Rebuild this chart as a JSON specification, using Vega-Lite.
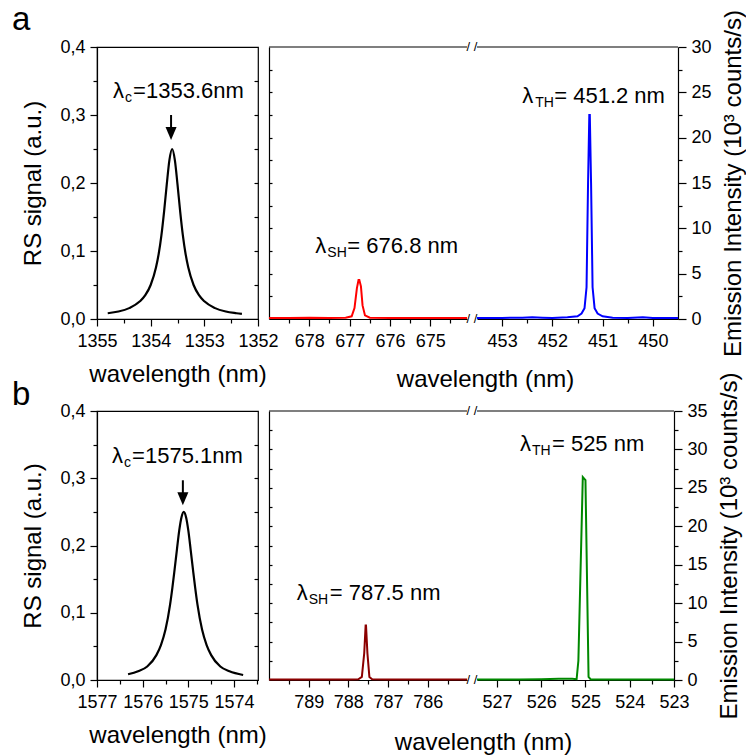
{
  "$schema": "https://vega.github.io/schema/vega-lite/v6.json",
  "padding": {"top": 3, "left": 11, "right": 0, "bottom": 0},
  "background": "white",
  "datasets": {
    "rsA": [
      {"wl": 1354.8, "v": 0.0085}, {"wl": 1354.6, "v": 0.011}, {"wl": 1354.4, "v": 0.016}, {"wl": 1354.2, "v": 0.026},
      {"wl": 1354.1, "v": 0.035}, {"wl": 1354.0, "v": 0.05}, {"wl": 1353.9, "v": 0.076}, {"wl": 1353.85, "v": 0.096},
      {"wl": 1353.8, "v": 0.123}, {"wl": 1353.75, "v": 0.158}, {"wl": 1353.7, "v": 0.198}, {"wl": 1353.65, "v": 0.234},
      {"wl": 1353.6, "v": 0.25}, {"wl": 1353.55, "v": 0.234}, {"wl": 1353.5, "v": 0.198}, {"wl": 1353.45, "v": 0.158},
      {"wl": 1353.4, "v": 0.123}, {"wl": 1353.35, "v": 0.096}, {"wl": 1353.3, "v": 0.076}, {"wl": 1353.2, "v": 0.05},
      {"wl": 1353.1, "v": 0.035}, {"wl": 1353.0, "v": 0.026}, {"wl": 1352.8, "v": 0.016}, {"wl": 1352.6, "v": 0.011},
      {"wl": 1352.4, "v": 0.0085}, {"wl": 1352.3, "v": 0.0075}
    ],
    "rsB": [
      {"wl": 1576.32, "v": 0.0085}, {"wl": 1576.1, "v": 0.013}, {"wl": 1575.9, "v": 0.02}, {"wl": 1575.7, "v": 0.037},
      {"wl": 1575.6, "v": 0.052}, {"wl": 1575.5, "v": 0.075}, {"wl": 1575.4, "v": 0.112}, {"wl": 1575.35, "v": 0.137},
      {"wl": 1575.3, "v": 0.165}, {"wl": 1575.25, "v": 0.194}, {"wl": 1575.2, "v": 0.222}, {"wl": 1575.15, "v": 0.242},
      {"wl": 1575.1, "v": 0.25}, {"wl": 1575.05, "v": 0.242}, {"wl": 1575.0, "v": 0.222}, {"wl": 1574.95, "v": 0.194},
      {"wl": 1574.9, "v": 0.165}, {"wl": 1574.85, "v": 0.137}, {"wl": 1574.8, "v": 0.112}, {"wl": 1574.7, "v": 0.075},
      {"wl": 1574.6, "v": 0.052}, {"wl": 1574.5, "v": 0.037}, {"wl": 1574.3, "v": 0.02}, {"wl": 1574.1, "v": 0.013},
      {"wl": 1573.8, "v": 0.0075}
    ],
    "shA": [
      {"wl": 679.0, "v": 0.12}, {"wl": 678.5, "v": 0.1}, {"wl": 678.0, "v": 0.14}, {"wl": 677.5, "v": 0.12},
      {"wl": 677.1, "v": 0.15}, {"wl": 676.95, "v": 0.3}, {"wl": 676.88, "v": 1.2}, {"wl": 676.82, "v": 3.4},
      {"wl": 676.78, "v": 4.3}, {"wl": 676.76, "v": 4.3}, {"wl": 676.72, "v": 3.6}, {"wl": 676.68, "v": 1.5}, {"wl": 676.62, "v": 0.4},
      {"wl": 676.5, "v": 0.15}, {"wl": 676.0, "v": 0.12}, {"wl": 675.5, "v": 0.1}, {"wl": 675.0, "v": 0.12},
      {"wl": 674.5, "v": 0.1}, {"wl": 674.09, "v": 0.1}
    ],
    "thA": [
      {"wl": 453.5, "v": 0.1}, {"wl": 453.0, "v": 0.12}, {"wl": 452.6, "v": 0.15}, {"wl": 452.4, "v": 0.2},
      {"wl": 452.2, "v": 0.15}, {"wl": 452.0, "v": 0.12}, {"wl": 451.7, "v": 0.18}, {"wl": 451.5, "v": 0.3},
      {"wl": 451.42, "v": 0.6}, {"wl": 451.36, "v": 1.2}, {"wl": 451.32, "v": 3.5}, {"wl": 451.29, "v": 15},
      {"wl": 451.265, "v": 22.5}, {"wl": 451.255, "v": 22.5}, {"wl": 451.23, "v": 15}, {"wl": 451.2, "v": 3.5}, {"wl": 451.16, "v": 1.2},
      {"wl": 451.1, "v": 0.6}, {"wl": 451.0, "v": 0.3}, {"wl": 450.8, "v": 0.15}, {"wl": 450.5, "v": 0.12},
      {"wl": 450.2, "v": 0.2}, {"wl": 450.0, "v": 0.12}, {"wl": 449.5, "v": 0.1}
    ],
    "shB": [
      {"wl": 790.0, "v": 0.05}, {"wl": 789.5, "v": 0.08}, {"wl": 789.0, "v": 0.06}, {"wl": 788.5, "v": 0.05},
      {"wl": 788.0, "v": 0.06}, {"wl": 787.75, "v": 0.1}, {"wl": 787.66, "v": 0.4}, {"wl": 787.6, "v": 3.5},
      {"wl": 787.565, "v": 7.1}, {"wl": 787.555, "v": 7.1}, {"wl": 787.52, "v": 3.5}, {"wl": 787.47, "v": 0.4}, {"wl": 787.4, "v": 0.1},
      {"wl": 787.0, "v": 0.05}, {"wl": 786.5, "v": 0.06}, {"wl": 786.0, "v": 0.05}, {"wl": 785.5, "v": 0.05},
      {"wl": 785.01, "v": 0.05}
    ],
    "thB": [
      {"wl": 527.45, "v": 0.05}, {"wl": 527.0, "v": 0.05}, {"wl": 526.5, "v": 0.08}, {"wl": 526.0, "v": 0.1},
      {"wl": 525.6, "v": 0.15}, {"wl": 525.3, "v": 0.15}, {"wl": 525.2, "v": 0.1}, {"wl": 525.16, "v": 2.5},
      {"wl": 525.06, "v": 26.4}, {"wl": 525.0, "v": 26.0}, {"wl": 524.93, "v": 0.4}, {"wl": 524.88, "v": 0.08},
      {"wl": 524.5, "v": 0.05}, {"wl": 524.0, "v": 0.05}, {"wl": 523.5, "v": 0.05}, {"wl": 523.0, "v": 0.05}
    ],
    "annA": [{"wl": 1354.7, "v": 0.325, "lam": "λ", "sub": "c", "rest": "=1353.6nm"}],
    "annB": [{"wl": 1576.67, "v": 0.323, "lam": "λ", "sub": "c", "rest": "=1575.1nm"}],
    "arrowA": [{"wl": 1353.62, "y1": 0.3, "y2": 0.28, "yh": 0.2728}],
    "arrowB": [{"wl": 1575.12, "y1": 0.297, "y2": 0.277, "yh": 0.2696}],
    "annSHA": [{"wl": 677.85, "v": 7.3, "lam": "λ", "sub": "SH", "rest": "= 676.8 nm"}],
    "annTHA": [{"wl": 452.6, "v": 23.8, "lam": "λ", "sub": "TH", "rest": "= 451.2 nm"}],
    "annSHB": [{"wl": 789.3, "v": 10.36, "lam": "λ", "sub": "SH", "rest": "= 787.5 nm"}],
    "annTHB": [{"wl": 526.48, "v": 29.8, "lam": "λ", "sub": "TH", "rest": "= 525 nm"}]
  },
  "concat": [
    {
      "width": 161, "height": 272,
      "title": {"text": "a", "anchor": "start", "frame": "bounds", "fontSize": 33, "dx": -10, "offset": 1},
      "layer": [
        {
          "layer": [
            {"data": {"name": "rsA"}, "mark": {"type": "line", "color": "#000", "strokeWidth": 2.2, "interpolate": "monotone"},
              "encoding": {
                "x": {"field": "wl", "type": "quantitative", "scale": {"domain": [1352, 1355], "reverse": true, "nice": false, "zero": false},
                  "axis": {"title": "wavelength (nm)", "values": [1355, 1354, 1353, 1352], "tickCount": 100, "format": "d", "tickSize": 7, "labelPadding": 6, "titlePadding": 12}},
                "y": {"field": "v", "type": "quantitative", "scale": {"domain": [0, 0.4], "nice": false, "zero": false},
                  "axis": {"title": "RS signal (a.u.)", "values": [0, 0.1, 0.2, 0.3, 0.4], "tickCount": 100, "tickSize": 7,
                    "labelExpr": "replace(format(datum.value, '.1f'), '.', ',')", "labelPadding": 5, "titlePadding": 14}}
              }},
            {"data": {"name": "arrowA"}, "mark": {"type": "rule", "color": "#000", "strokeWidth": 2},
              "encoding": {"x": {"field": "wl", "type": "quantitative"}, "y": {"field": "y1", "type": "quantitative"}, "y2": {"field": "y2"}}},
            {"data": {"name": "arrowA"}, "mark": {"type": "point", "shape": "M-0.85,-1L0.85,-1L0,1Z", "filled": true, "color": "#000", "size": 169, "opacity": 1},
              "encoding": {"x": {"field": "wl", "type": "quantitative"}, "y": {"field": "yh", "type": "quantitative"}}},
            {"data": {"name": "annA"}, "mark": {"type": "text", "align": "left", "baseline": "alphabetic", "fontSize": 22, "color": "#000"},
              "encoding": {"x": {"field": "wl", "type": "quantitative"}, "y": {"field": "v", "type": "quantitative"}, "text": {"field": "lam"}}},
            {"data": {"name": "annA"}, "mark": {"type": "text", "align": "left", "baseline": "alphabetic", "fontSize": 14, "dx": 12, "dy": 4, "color": "#000"},
              "encoding": {"x": {"field": "wl", "type": "quantitative"}, "y": {"field": "v", "type": "quantitative"}, "text": {"field": "sub"}}},
            {"data": {"name": "annA"}, "mark": {"type": "text", "align": "left", "baseline": "alphabetic", "fontSize": 22, "dx": 20, "color": "#000"},
              "encoding": {"x": {"field": "wl", "type": "quantitative"}, "y": {"field": "v", "type": "quantitative"}, "text": {"field": "rest"}}}
          ]
        },
        {"data": {"name": "rsA"}, "mark": {"type": "line", "opacity": 0},
          "encoding": {
            "x": {"field": "wl", "type": "quantitative", "scale": {"domain": [1352, 1355], "reverse": true, "nice": false, "zero": false},
              "axis": {"orient": "bottom", "title": null, "labels": false, "domain": false, "tickSize": 4, "tickCount": 100, "values": [1354.5, 1353.5, 1352.5]}},
            "y": {"field": "v", "type": "quantitative", "scale": {"domain": [0, 0.4], "nice": false, "zero": false},
              "axis": {"orient": "left", "title": null, "labels": false, "domain": false, "tickSize": 4, "tickCount": 100, "values": [0.05, 0.15, 0.25, 0.35]}}
          }},
        {"data": {"name": "rsA"}, "mark": {"type": "line", "opacity": 0},
          "encoding": {
            "x": {"field": "wl", "type": "quantitative", "scale": {"domain": [1352, 1355], "reverse": true, "nice": false, "zero": false}, "axis": null},
            "y": {"field": "v", "type": "quantitative", "scale": {"domain": [0, 0.4], "nice": false, "zero": false},
              "axis": {"orient": "right", "title": null, "labels": false, "domain": false, "tickSize": -4, "tickCount": 100, "values": [0.05, 0.1, 0.15, 0.2, 0.25, 0.3, 0.35]}}
          }}
      ],
      "resolve": {"scale": {"x": "independent", "y": "independent"}, "axis": {"x": "independent", "y": "independent"}}
    },
    {
      "width": 409, "height": 272,
      "view": {"stroke": null},
      "title": {"text": "wavelength (nm)", "orient": "bottom", "frame": "group", "anchor": "middle", "dx": 12, "offset": 12, "fontSize": 24},
      "layer": [
        {
          "layer": [
            {"data": {"name": "shA"}, "mark": {"type": "line", "color": "#ff0000", "strokeWidth": 2},
              "encoding": {
                "x": {"field": "wl", "type": "quantitative", "scale": {"domain": [674.09, 679], "range": [0, 198], "reverse": true, "nice": false, "zero": false},
                  "axis": {"orient": "bottom", "title": null, "values": [678, 677, 676, 675], "tickCount": 100, "format": "d", "tickSize": 7, "labelPadding": 6}},
                "y": {"field": "v", "type": "quantitative", "scale": {"domain": [0, 30], "nice": false, "zero": false},
                  "axis": {"orient": "left", "title": null, "labels": false, "tickSize": -3, "tickCount": 100,
                    "values": [2.5, 5, 7.5, 10, 12.5, 15, 17.5, 20, 22.5, 25, 27.5]}}
              }},
            {"data": {"name": "shA"}, "mark": {"type": "rule", "color": "#000", "strokeWidth": 1.2},
              "encoding": {"x": {"aggregate": "max", "field": "wl", "type": "quantitative"}, "x2": {"aggregate": "min", "field": "wl"}, "y": {"datum": 30}}},
            {"data": {"name": "shA"}, "mark": {"type": "text", "text": "/ /", "fontSize": 13, "dx": 5, "align": "center", "baseline": "middle", "color": "#000"},
              "encoding": {"x": {"aggregate": "min", "field": "wl", "type": "quantitative"}, "y": {"datum": 30}}},
            {"data": {"name": "shA"}, "mark": {"type": "text", "text": "/ /", "fontSize": 13, "dx": 5, "align": "center", "baseline": "middle", "color": "#000"},
              "encoding": {"x": {"aggregate": "min", "field": "wl", "type": "quantitative"}, "y": {"datum": 0}}},
            {"data": {"name": "annSHA"}, "mark": {"type": "text", "align": "left", "baseline": "alphabetic", "fontSize": 22, "color": "#000"},
              "encoding": {"x": {"field": "wl", "type": "quantitative"}, "y": {"field": "v", "type": "quantitative"}, "text": {"field": "lam"}}},
            {"data": {"name": "annSHA"}, "mark": {"type": "text", "align": "left", "baseline": "alphabetic", "fontSize": 14, "dx": 12, "dy": 4, "color": "#000"},
              "encoding": {"x": {"field": "wl", "type": "quantitative"}, "y": {"field": "v", "type": "quantitative"}, "text": {"field": "sub"}}},
            {"data": {"name": "annSHA"}, "mark": {"type": "text", "align": "left", "baseline": "alphabetic", "fontSize": 22, "dx": 32, "color": "#000"},
              "encoding": {"x": {"field": "wl", "type": "quantitative"}, "y": {"field": "v", "type": "quantitative"}, "text": {"field": "rest"}}}
          ]
        },
        {
          "layer": [
            {"data": {"name": "thA"}, "mark": {"type": "line", "color": "#0000ff", "strokeWidth": 2},
              "encoding": {
                "x": {"field": "wl", "type": "quantitative", "scale": {"domain": [449.5, 453.5], "range": [208, 409], "reverse": true, "nice": false, "zero": false},
                  "axis": {"orient": "bottom", "title": null, "values": [453, 452, 451, 450], "tickCount": 100, "format": "d", "tickSize": 7, "labelPadding": 6}},
                "y": {"field": "v", "type": "quantitative", "scale": {"domain": [0, 30], "nice": false, "zero": false},
                  "axis": {"orient": "right", "title": "Emission Intensity (10³ counts/s)", "titleAngle": 270, "titleBaseline": "top", "titleFontSize": 24,
                    "values": [0, 5, 10, 15, 20, 25, 30], "tickCount": 100, "format": "d", "tickSize": 8, "labelPadding": 5, "titlePadding": 10}}
              }},
            {"data": {"name": "thA"}, "mark": {"type": "rule", "color": "#000", "strokeWidth": 1.2},
              "encoding": {"x": {"aggregate": "max", "field": "wl", "type": "quantitative"}, "x2": {"aggregate": "min", "field": "wl"}, "y": {"datum": 30}}},
            {"data": {"name": "annTHA"}, "mark": {"type": "text", "align": "left", "baseline": "alphabetic", "fontSize": 22, "color": "#000"},
              "encoding": {"x": {"field": "wl", "type": "quantitative"}, "y": {"field": "v", "type": "quantitative"}, "text": {"field": "lam"}}},
            {"data": {"name": "annTHA"}, "mark": {"type": "text", "align": "left", "baseline": "alphabetic", "fontSize": 14, "dx": 13, "dy": 4, "color": "#000"},
              "encoding": {"x": {"field": "wl", "type": "quantitative"}, "y": {"field": "v", "type": "quantitative"}, "text": {"field": "sub"}}},
            {"data": {"name": "annTHA"}, "mark": {"type": "text", "align": "left", "baseline": "alphabetic", "fontSize": 22, "dx": 32, "color": "#000"},
              "encoding": {"x": {"field": "wl", "type": "quantitative"}, "y": {"field": "v", "type": "quantitative"}, "text": {"field": "rest"}}}
          ]
        },
        {"data": {"name": "shA"}, "mark": {"type": "line", "opacity": 0},
          "encoding": {
            "x": {"field": "wl", "type": "quantitative", "scale": {"domain": [674.09, 679], "range": [0, 198], "reverse": true, "nice": false, "zero": false},
              "axis": {"orient": "bottom", "title": null, "labels": false, "domain": false, "tickSize": 4, "tickCount": 100, "values": [678.5, 677.5, 676.5, 675.5, 674.5]}},
            "y": {"field": "v", "type": "quantitative", "scale": {"domain": [0, 30], "nice": false, "zero": false}, "axis": null}
          }},
        {"data": {"name": "thA"}, "mark": {"type": "line", "opacity": 0},
          "encoding": {
            "x": {"field": "wl", "type": "quantitative", "scale": {"domain": [449.5, 453.5], "range": [208, 409], "reverse": true, "nice": false, "zero": false},
              "axis": {"orient": "bottom", "title": null, "labels": false, "domain": false, "tickSize": 4, "tickCount": 100, "values": [452.5, 451.5, 450.5]}},
            "y": {"field": "v", "type": "quantitative", "scale": {"domain": [0, 30], "nice": false, "zero": false},
              "axis": {"orient": "right", "title": null, "labels": false, "domain": false, "tickSize": 4, "tickCount": 100, "values": [2.5, 7.5, 12.5, 17.5, 22.5, 27.5]}}
          }}
      ],
      "resolve": {"scale": {"x": "independent", "y": "independent"}, "axis": {"x": "independent", "y": "independent"}}
    },
    {
      "width": 161, "height": 269,
      "title": {"text": "b", "anchor": "start", "frame": "bounds", "fontSize": 33, "dx": -10, "offset": -10},
      "layer": [
        {
          "layer": [
            {"data": {"name": "rsB"}, "mark": {"type": "line", "color": "#000", "strokeWidth": 2.2, "interpolate": "monotone"},
              "encoding": {
                "x": {"field": "wl", "type": "quantitative", "scale": {"domain": [1573.475, 1577], "reverse": true, "nice": false, "zero": false},
                  "axis": {"title": "wavelength (nm)", "values": [1577, 1576, 1575, 1574], "tickCount": 100, "format": "d", "tickSize": 7, "labelPadding": 6, "titlePadding": 12}},
                "y": {"field": "v", "type": "quantitative", "scale": {"domain": [0, 0.4], "nice": false, "zero": false},
                  "axis": {"title": "RS signal (a.u.)", "values": [0, 0.1, 0.2, 0.3, 0.4], "tickCount": 100, "tickSize": 7,
                    "labelExpr": "replace(format(datum.value, '.1f'), '.', ',')", "labelPadding": 5, "titlePadding": 14}}
              }},
            {"data": {"name": "arrowB"}, "mark": {"type": "rule", "color": "#000", "strokeWidth": 2},
              "encoding": {"x": {"field": "wl", "type": "quantitative"}, "y": {"field": "y1", "type": "quantitative"}, "y2": {"field": "y2"}}},
            {"data": {"name": "arrowB"}, "mark": {"type": "point", "shape": "M-0.85,-1L0.85,-1L0,1Z", "filled": true, "color": "#000", "size": 169, "opacity": 1},
              "encoding": {"x": {"field": "wl", "type": "quantitative"}, "y": {"field": "yh", "type": "quantitative"}}},
            {"data": {"name": "annB"}, "mark": {"type": "text", "align": "left", "baseline": "alphabetic", "fontSize": 22, "color": "#000"},
              "encoding": {"x": {"field": "wl", "type": "quantitative"}, "y": {"field": "v", "type": "quantitative"}, "text": {"field": "lam"}}},
            {"data": {"name": "annB"}, "mark": {"type": "text", "align": "left", "baseline": "alphabetic", "fontSize": 14, "dx": 12, "dy": 4, "color": "#000"},
              "encoding": {"x": {"field": "wl", "type": "quantitative"}, "y": {"field": "v", "type": "quantitative"}, "text": {"field": "sub"}}},
            {"data": {"name": "annB"}, "mark": {"type": "text", "align": "left", "baseline": "alphabetic", "fontSize": 22, "dx": 20, "color": "#000"},
              "encoding": {"x": {"field": "wl", "type": "quantitative"}, "y": {"field": "v", "type": "quantitative"}, "text": {"field": "rest"}}}
          ]
        },
        {"data": {"name": "rsB"}, "mark": {"type": "line", "opacity": 0},
          "encoding": {
            "x": {"field": "wl", "type": "quantitative", "scale": {"domain": [1573.475, 1577], "reverse": true, "nice": false, "zero": false},
              "axis": {"orient": "bottom", "title": null, "labels": false, "domain": false, "tickSize": 4, "tickCount": 100, "values": [1576.5, 1575.5, 1574.5, 1573.5]}},
            "y": {"field": "v", "type": "quantitative", "scale": {"domain": [0, 0.4], "nice": false, "zero": false},
              "axis": {"orient": "left", "title": null, "labels": false, "domain": false, "tickSize": 4, "tickCount": 100, "values": [0.05, 0.15, 0.25, 0.35]}}
          }},
        {"data": {"name": "rsB"}, "mark": {"type": "line", "opacity": 0},
          "encoding": {
            "x": {"field": "wl", "type": "quantitative", "scale": {"domain": [1573.475, 1577], "reverse": true, "nice": false, "zero": false}, "axis": null},
            "y": {"field": "v", "type": "quantitative", "scale": {"domain": [0, 0.4], "nice": false, "zero": false},
              "axis": {"orient": "right", "title": null, "labels": false, "domain": false, "tickSize": -4, "tickCount": 100, "values": [0.05, 0.1, 0.15, 0.2, 0.25, 0.3, 0.35]}}
          }}
      ],
      "resolve": {"scale": {"x": "independent", "y": "independent"}, "axis": {"x": "independent", "y": "independent"}}
    },
    {
      "width": 405, "height": 269,
      "view": {"stroke": null},
      "title": {"text": "wavelength (nm)", "orient": "bottom", "frame": "group", "anchor": "middle", "dx": 12, "offset": 12, "fontSize": 24},
      "layer": [
        {
          "layer": [
            {"data": {"name": "shB"}, "mark": {"type": "line", "color": "#8b0000", "strokeWidth": 2},
              "encoding": {
                "x": {"field": "wl", "type": "quantitative", "scale": {"domain": [785.01, 790], "range": [0, 198], "reverse": true, "nice": false, "zero": false},
                  "axis": {"orient": "bottom", "title": null, "values": [789, 788, 787, 786], "tickCount": 100, "format": "d", "tickSize": 7, "labelPadding": 6}},
                "y": {"field": "v", "type": "quantitative", "scale": {"domain": [0, 35], "nice": false, "zero": false},
                  "axis": {"orient": "left", "title": null, "labels": false, "tickSize": -3, "tickCount": 100,
                    "values": [2.5, 5, 7.5, 10, 12.5, 15, 17.5, 20, 22.5, 25, 27.5, 30, 32.5]}}
              }},
            {"data": {"name": "shB"}, "mark": {"type": "rule", "color": "#000", "strokeWidth": 1.2},
              "encoding": {"x": {"aggregate": "max", "field": "wl", "type": "quantitative"}, "x2": {"aggregate": "min", "field": "wl"}, "y": {"datum": 35}}},
            {"data": {"name": "shB"}, "mark": {"type": "text", "text": "/ /", "fontSize": 13, "dx": 5, "align": "center", "baseline": "middle", "color": "#000"},
              "encoding": {"x": {"aggregate": "min", "field": "wl", "type": "quantitative"}, "y": {"datum": 35}}},
            {"data": {"name": "shB"}, "mark": {"type": "text", "text": "/ /", "fontSize": 13, "dx": 5, "align": "center", "baseline": "middle", "color": "#000"},
              "encoding": {"x": {"aggregate": "min", "field": "wl", "type": "quantitative"}, "y": {"datum": 0}}},
            {"data": {"name": "annSHB"}, "mark": {"type": "text", "align": "left", "baseline": "alphabetic", "fontSize": 22, "color": "#000"},
              "encoding": {"x": {"field": "wl", "type": "quantitative"}, "y": {"field": "v", "type": "quantitative"}, "text": {"field": "lam"}}},
            {"data": {"name": "annSHB"}, "mark": {"type": "text", "align": "left", "baseline": "alphabetic", "fontSize": 14, "dx": 12, "dy": 4, "color": "#000"},
              "encoding": {"x": {"field": "wl", "type": "quantitative"}, "y": {"field": "v", "type": "quantitative"}, "text": {"field": "sub"}}},
            {"data": {"name": "annSHB"}, "mark": {"type": "text", "align": "left", "baseline": "alphabetic", "fontSize": 22, "dx": 33, "color": "#000"},
              "encoding": {"x": {"field": "wl", "type": "quantitative"}, "y": {"field": "v", "type": "quantitative"}, "text": {"field": "rest"}}}
          ]
        },
        {
          "layer": [
            {"data": {"name": "thB"}, "mark": {"type": "line", "color": "#008800", "strokeWidth": 2},
              "encoding": {
                "x": {"field": "wl", "type": "quantitative", "scale": {"domain": [523, 527.45], "range": [208, 405], "reverse": true, "nice": false, "zero": false},
                  "axis": {"orient": "bottom", "title": null, "values": [527, 526, 525, 524, 523], "tickCount": 100, "format": "d", "tickSize": 7, "labelPadding": 6}},
                "y": {"field": "v", "type": "quantitative", "scale": {"domain": [0, 35], "nice": false, "zero": false},
                  "axis": {"orient": "right", "title": "Emission Intensity (10³ counts/s)", "titleAngle": 270, "titleBaseline": "top", "titleFontSize": 24,
                    "values": [0, 5, 10, 15, 20, 25, 30, 35], "tickCount": 100, "format": "d", "tickSize": 8, "labelPadding": 5, "titlePadding": 10}}
              }},
            {"data": {"name": "thB"}, "mark": {"type": "rule", "color": "#000", "strokeWidth": 1.2},
              "encoding": {"x": {"aggregate": "max", "field": "wl", "type": "quantitative"}, "x2": {"aggregate": "min", "field": "wl"}, "y": {"datum": 35}}},
            {"data": {"name": "annTHB"}, "mark": {"type": "text", "align": "left", "baseline": "alphabetic", "fontSize": 22, "color": "#000"},
              "encoding": {"x": {"field": "wl", "type": "quantitative"}, "y": {"field": "v", "type": "quantitative"}, "text": {"field": "lam"}}},
            {"data": {"name": "annTHB"}, "mark": {"type": "text", "align": "left", "baseline": "alphabetic", "fontSize": 14, "dx": 12, "dy": 4, "color": "#000"},
              "encoding": {"x": {"field": "wl", "type": "quantitative"}, "y": {"field": "v", "type": "quantitative"}, "text": {"field": "sub"}}},
            {"data": {"name": "annTHB"}, "mark": {"type": "text", "align": "left", "baseline": "alphabetic", "fontSize": 22, "dx": 32, "color": "#000"},
              "encoding": {"x": {"field": "wl", "type": "quantitative"}, "y": {"field": "v", "type": "quantitative"}, "text": {"field": "rest"}}}
          ]
        },
        {"data": {"name": "shB"}, "mark": {"type": "line", "opacity": 0},
          "encoding": {
            "x": {"field": "wl", "type": "quantitative", "scale": {"domain": [785.01, 790], "range": [0, 198], "reverse": true, "nice": false, "zero": false},
              "axis": {"orient": "bottom", "title": null, "labels": false, "domain": false, "tickSize": 4, "tickCount": 100, "values": [789.5, 788.5, 787.5, 786.5, 785.5]}},
            "y": {"field": "v", "type": "quantitative", "scale": {"domain": [0, 35], "nice": false, "zero": false}, "axis": null}
          }},
        {"data": {"name": "thB"}, "mark": {"type": "line", "opacity": 0},
          "encoding": {
            "x": {"field": "wl", "type": "quantitative", "scale": {"domain": [523, 527.45], "range": [208, 405], "reverse": true, "nice": false, "zero": false},
              "axis": {"orient": "bottom", "title": null, "labels": false, "domain": false, "tickSize": 4, "tickCount": 100, "values": [526.5, 525.5, 524.5, 523.5]}},
            "y": {"field": "v", "type": "quantitative", "scale": {"domain": [0, 35], "nice": false, "zero": false},
              "axis": {"orient": "right", "title": null, "labels": false, "domain": false, "tickSize": 4, "tickCount": 100, "values": [2.5, 7.5, 12.5, 17.5, 22.5, 27.5, 32.5]}}
          }}
      ],
      "resolve": {"scale": {"x": "independent", "y": "independent"}, "axis": {"x": "independent", "y": "independent"}}
    }
  ],
  "columns": 2,
  "spacing": {"row": 92, "column": 11},
  "bounds": "flush",
  "align": "each",
  "config": {
    "font": "Liberation Sans",
    "view": {"stroke": "#000", "strokeWidth": 1.2},
    "axis": {
      "grid": false, "domainColor": "#000", "tickColor": "#000", "labelColor": "#000", "titleColor": "#000",
      "labelFont": "Liberation Sans", "titleFont": "Liberation Sans", "labelFontSize": 18, "titleFontSize": 24,
      "titleFontWeight": "normal", "labelFlush": false, "labelOverlap": false, "domainWidth": 1.2, "tickWidth": 1.2
    },
    "title": {"font": "Liberation Sans", "fontWeight": "normal", "color": "#000"},
    "text": {"font": "Liberation Sans"}
  }
}
